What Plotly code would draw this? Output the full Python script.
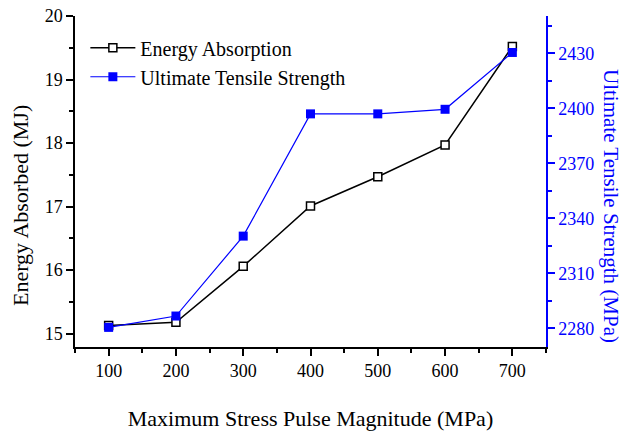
import plotly.graph_objects as go

pulse_mpa = [100, 200, 300, 400, 500, 600, 700]
energy_mj = [15.13, 15.18, 16.06, 17.01, 17.47, 17.97, 19.52]
uts_mpa = [2280.5, 2286.7, 2330.3, 2397.0, 2397.0, 2399.5, 2430.5]

FONT = "'Liberation Serif', 'Times New Roman', Times, serif"
BLUE = "#0000FF"

fig = go.Figure()
fig.add_trace(go.Scatter(
    x=pulse_mpa, y=energy_mj, name="Energy Absorption", mode="lines+markers",
    line=dict(color="black", width=1.5),
    marker=dict(symbol="square", size=8, color="white", line=dict(color="black", width=1.5)),
    xaxis="x", yaxis="y"))
fig.add_trace(go.Scatter(
    x=pulse_mpa, y=uts_mpa, name="Ultimate Tensile Strength", mode="lines+markers",
    line=dict(color=BLUE, width=1.2),
    marker=dict(symbol="square", size=9, color=BLUE, line=dict(color=BLUE, width=0)),
    xaxis="x", yaxis="y2"))

fig.update_layout(
    width=625, height=435,
    margin=dict(l=75, r=79, t=16, b=88, autoexpand=False),
    paper_bgcolor="white", plot_bgcolor="white",
    font=dict(family=FONT, size=18, color="black"),
    showlegend=True,
    legend=dict(x=0.022, y=0.963, xanchor="left", yanchor="top",
                bgcolor="rgba(0,0,0,0)", borderwidth=0, itemwidth=45,
                font=dict(family=FONT, size=20, color="black"),
                tracegroupgap=0),
    xaxis=dict(
        range=[50, 750], tickmode="linear", tick0=100, dtick=100,
        showgrid=False, zeroline=False, automargin=False,
        showline=True, linecolor="black", linewidth=1.5,
        ticks="outside", ticklen=7, tickwidth=1.5, tickcolor="black",
        minor=dict(ticks="outside", dtick=50, tick0=50, ticklen=4, tickwidth=1.5, tickcolor="black"),
        tickfont=dict(family=FONT, size=18, color="black"),
        title=dict(text="Maximum Stress Pulse Magnitude (MPa)",
                   font=dict(family=FONT, size=22, color="black"), standoff=30),
    ),
    xaxis2=dict(
        overlaying="x", side="top", matches="x", range=[50, 750],
        tickmode="linear", tick0=100, dtick=100, automargin=False,
        showgrid=False, zeroline=False, showticklabels=False,
        showline=True, linecolor="black", linewidth=1.5,
        ticks="inside", ticklen=7, tickwidth=1.5, tickcolor="black",
        minor=dict(ticks="inside", dtick=50, tick0=50, ticklen=4, tickwidth=1.5, tickcolor="black"),
    ),
    yaxis=dict(
        range=[14.79, 20], tickmode="linear", tick0=15, dtick=1,
        showgrid=False, zeroline=False, automargin=False,
        showline=True, linecolor="black", linewidth=1.5,
        ticks="outside", ticklen=7, tickwidth=1.5, tickcolor="black",
        minor=dict(ticks="outside", dtick=0.5, tick0=15, ticklen=4, tickwidth=1.5, tickcolor="black"),
        tickfont=dict(family=FONT, size=18, color="black"),
    ),
    yaxis2=dict(
        overlaying="y", side="right", anchor="x",
        range=[2269.8, 2450.4], tickmode="linear", tick0=2280, dtick=30,
        showgrid=False, zeroline=False, automargin=False,
        showline=True, linecolor=BLUE, linewidth=1.5,
        ticks="outside", ticklen=7, tickwidth=1.5, tickcolor=BLUE,
        minor=dict(ticks="outside", dtick=15, tick0=2280, ticklen=4, tickwidth=1.5, tickcolor=BLUE),
        tickfont=dict(family=FONT, size=18, color=BLUE),
    ),
    annotations=[
        dict(text="Energy Absorbed (MJ)", xref="paper", yref="paper",
             x=-0.1146, y=0.426, xanchor="center", yanchor="middle",
             textangle=-90, showarrow=False,
             font=dict(family=FONT, size=22, color="black")),
        dict(text="Ultimate Tensile Strength (MPa)", xref="paper", yref="paper",
             x=1.1380, y=0.426, xanchor="center", yanchor="middle",
             textangle=90, showarrow=False,
             font=dict(family=FONT, size=21, color=BLUE)),
    ],
)

fig.write_html("out.html")
